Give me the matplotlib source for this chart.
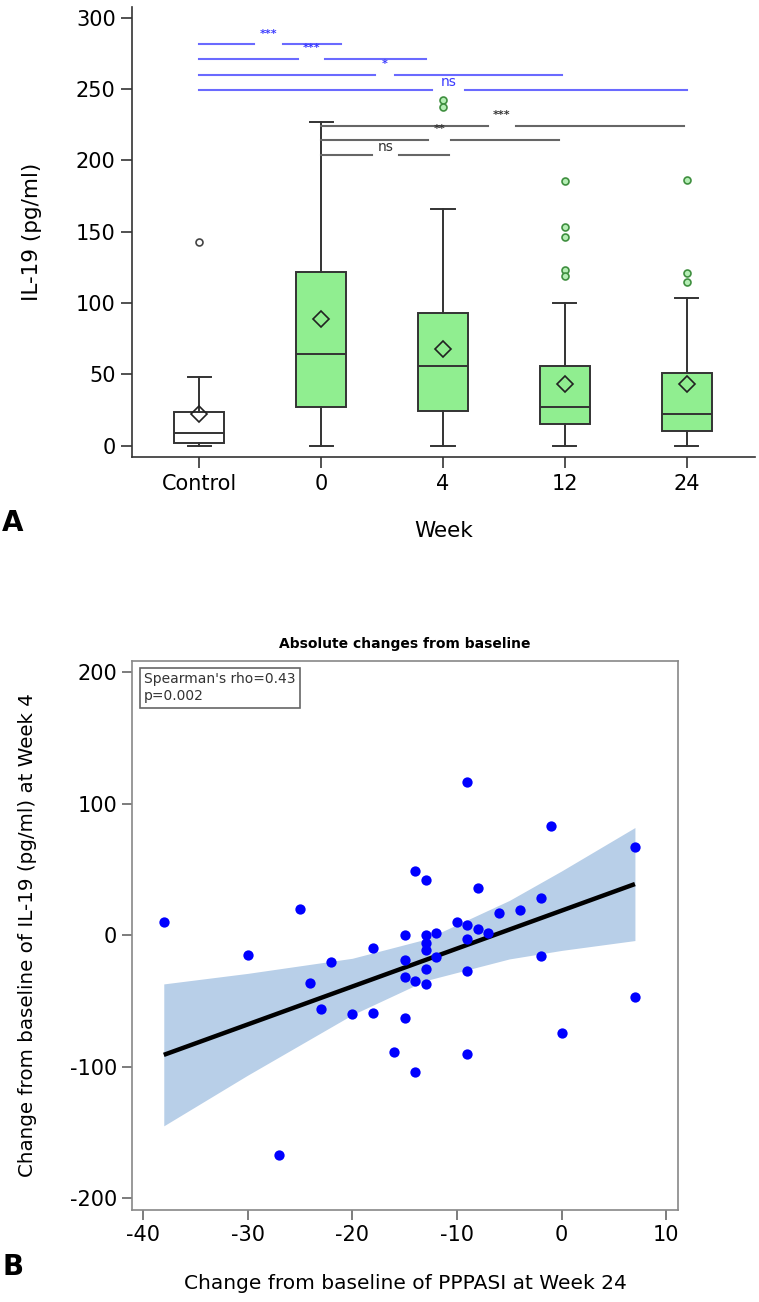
import matplotlib
matplotlib.use("Agg")
import matplotlib.pyplot as plt
import numpy as np

plt.rcParams["font.family"] = ["DejaVu Sans"]
plt.rcParams["axes.unicode_minus"] = False

# Panel A: IL-19 by week (box statistics)
groups = ["Control", "0", "4", "12", "24"]
q1 = [1.5, 27, 24, 15.5, 10.5]
medians = [9, 64, 55.5, 27, 22]
q3 = [23.5, 122, 93, 55.5, 51]
whisk_lo = [0, 0, 0, 0, 0]
whisk_hi = [48, 227, 166, 100, 103.5]
means = [22.5, 88.5, 68, 43.5, 43.5]
fliers = [[143], [], [242.5, 237.5], [185.5, 153, 146.5, 123, 119], [186, 121, 115]]

# significance brackets: (y, x start, x end, gap start, gap end, label, label y)
blue_marks = [
    (282, 0.0, 1.16, 0.45, 0.69, "***", 289),
    (271, 0.0, 1.86, 0.81, 1.03, "***", 279),
    (260, 0.0, 2.98, 1.44, 1.61, "*", 268),
    (249.5, 0.0, 4.0, 1.91, 2.18, "ns", 255),
]
gray_marks = [
    (224, 1.0, 3.98, 2.37, 2.60, "***", 232),
    (214.5, 1.0, 2.95, 1.88, 2.07, "**", 222),
    (204, 1.0, 2.05, 1.42, 1.64, "ns", 209.5),
]

# Panel B: change in PPPASI (wk 24) vs change in IL-19 (wk 4)
pppasi_chg = [-38, -9, -1, 7, -14, -13, -8, -25, -2, -6, -4, -10, -9, -8, -7,
              -9, -13, -12, -15, -13, -13, -30, -18, -2, -22, -15, -12, -9, -13,
              -24, -15, -14, -13, -23, -20, -18, -15, 7, 0, -16, -9, -14, -27]
il19_chg = [10, 117, 83, 67, 49, 42, 36, 20, 28, 17, 19, 10, 8, 5, 2,
            -3, 0.5, 2, 0, -6, -11, -15, -10, -16, -20, -19, -16.5, -27, -26,
            -36, -32, -35, -37, -56, -60, -59, -63, -47, -74, -89, -90, -104, -167]

# fitted line and 95% confidence band
fit_x = [-38, 7]
fit_y = [-91, 39]
band_x = [-38, -30, -20, -13, -5, 0, 7]
band_lo = [-145, -106.5, -60.5, -34.5, -18, -11.5, -4]
band_hi = [-37, -29, -17.5, -3, 26.5, 49, 82]

fig = plt.figure(figsize=(7.59, 13.02), dpi=100)

# ---------------- Panel A ----------------
axA = fig.add_axes([0.1744, 0.649, 0.82, 0.346])
pos = np.arange(len(groups))
stats = []
for i in range(len(groups)):
    stats.append({"q1": q1[i], "med": medians[i], "q3": q3[i],
                  "whislo": whisk_lo[i], "whishi": whisk_hi[i],
                  "mean": means[i], "fliers": fliers[i], "label": groups[i]})

edge = "#333333"
bp = axA.bxp(stats, positions=pos, widths=0.41, patch_artist=True, showmeans=True,
             boxprops=dict(edgecolor=edge, linewidth=1.4),
             medianprops=dict(color=edge, linewidth=1.4),
             whiskerprops=dict(color=edge, linewidth=1.4),
             capprops=dict(color=edge, linewidth=1.4),
             capwidths=0.19,
             meanprops=dict(marker="D", markerfacecolor="none", markeredgecolor="#222222",
                            markersize=8, markeredgewidth=1.2),
             flierprops=dict(marker="o", markersize=5, markeredgewidth=1.2))
for i, box in enumerate(bp["boxes"]):
    box.set_facecolor("white" if i == 0 else "#90ee90")
for i, fl in enumerate(bp["fliers"]):
    if i == 0:
        fl.set_markeredgecolor("#444444")
        fl.set_markerfacecolor("white")
    else:
        fl.set_markeredgecolor("#3f8f3f")
        fl.set_markerfacecolor("#b5eeb5")

for marks, lc, tc in [(blue_marks, "#6a6aff", "#3a3aff"), (gray_marks, "#666666", "#333333")]:
    for y, xa, xb, ga, gb, lab, ly in marks:
        axA.plot([xa, ga], [y, y], color=lc, lw=1.5)
        axA.plot([gb, xb], [y, y], color=lc, lw=1.5)
        if lab == "ns":
            axA.text((ga + gb) / 2, ly, lab, color=tc, ha="center", va="center", fontsize=10)
        else:
            axA.text((ga + gb) / 2, ly, lab, color=tc, ha="center", va="center",
                     fontsize=8, fontweight="bold")

axA.set_xlim(-0.55, 4.56)
axA.set_ylim(-8, 308)
axA.set_yticks(np.arange(0, 301, 50))
axA.set_xticks(pos)
axA.set_xticklabels(groups)
for s in ["top", "right"]:
    axA.spines[s].set_visible(False)
for s in ["left", "bottom"]:
    axA.spines[s].set_color(edge)
    axA.spines[s].set_linewidth(1.2)
axA.tick_params(direction="out", length=8, width=1.2, color=edge, labelsize=15, pad=4)
axA.set_ylabel("IL-19 (pg/ml)", fontsize=15.5)
axA.set_xlabel("Week", fontsize=15.5)
axA.yaxis.set_label_coords(-0.145, 0.5)
axA.xaxis.set_label_coords(0.5, -0.142)
fig.text(0.003, 1 - 523 / 1302, "A", fontsize=20, fontweight="bold", va="center")

# ---------------- Panel B ----------------
axB = fig.add_axes([0.1744, 0.0707, 0.7187, 0.4219])
axB.fill_between(band_x, band_lo, band_hi, color="#b8cfe8", lw=0, zorder=1)
axB.plot(fit_x, fit_y, color="black", lw=3.2, zorder=2, solid_capstyle="butt")
axB.scatter(pppasi_chg, il19_chg, s=55, color="#0000ff", zorder=3, linewidths=0)

axB.set_xlim(-41, 11.1)
axB.set_ylim(-209, 209)
axB.set_xticks([-40, -30, -20, -10, 0, 10])
axB.set_yticks([-200, -100, 0, 100, 200])
for s in axB.spines.values():
    s.set_color("#888888")
    s.set_linewidth(1.2)
axB.tick_params(direction="out", length=7, width=1.2, color="#666666", labelsize=15, pad=4)
axB.set_title("Absolute changes from baseline", fontsize=10, fontweight="bold", pad=9)
axB.set_xlabel("Change from baseline of PPPASI at Week 24", fontsize=14.5)
axB.set_ylabel("Change from baseline of IL-19 (pg/ml) at Week 4", fontsize=14.3)
axB.yaxis.set_label_coords(-0.175, 0.5)
axB.xaxis.set_label_coords(0.5, -0.1165)
axB.text(0.0217, 0.979, "Spearman's rho=0.43\np=0.002", transform=axB.transAxes,
         ha="left", va="top", fontsize=10, color="#333333", linespacing=1.3,
         bbox=dict(boxstyle="square,pad=0.3", facecolor="white", edgecolor="#666666", lw=1.2))
fig.text(0.003, 1 - 1267 / 1302, "B", fontsize=20, fontweight="bold", va="center")

fig.savefig("out.png", dpi=100)
